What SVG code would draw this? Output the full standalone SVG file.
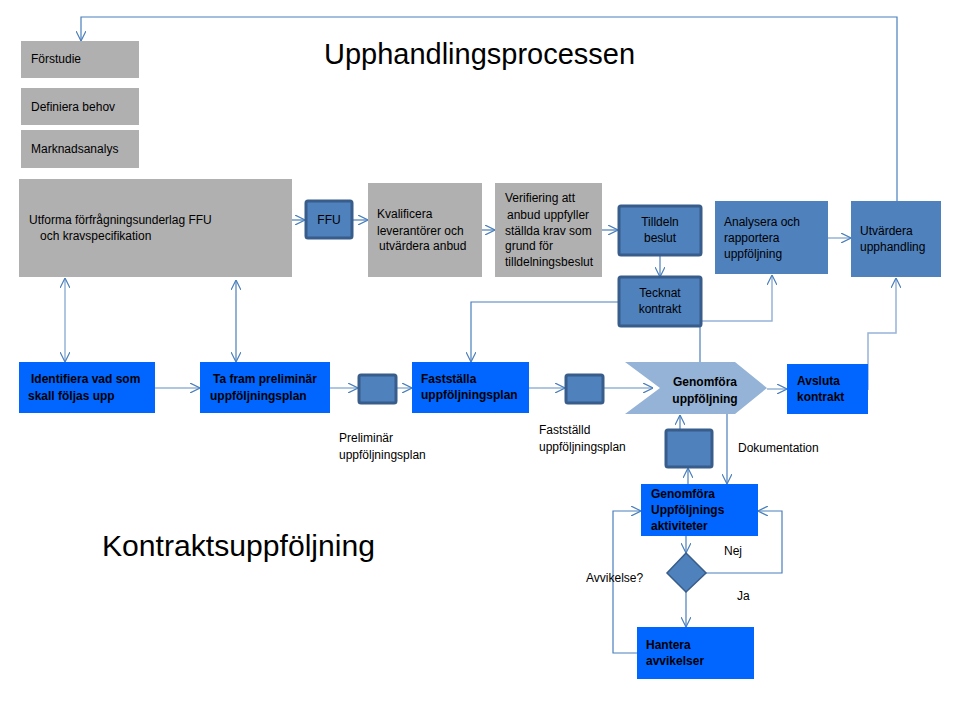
<svg xmlns="http://www.w3.org/2000/svg" width="960" height="720" viewBox="0 0 960 720">
<style>
text{font-family:"Liberation Sans",Arial,sans-serif;font-size:12px;fill:#000}
.b{font-weight:bold}
.big{font-size:29px}
.gray{fill:#B0B0B0}
.steel{fill:#4F81BD}
.steelb{fill:#4F81BD;stroke:#385D8A;stroke-width:3}
.bright{fill:#0066FF}
.c{fill:none;stroke:#4A7EBB;stroke-width:1.2}
.cl{fill:none;stroke:#95B3D7;stroke-width:1.5}
</style>
<defs>
<marker id="a" viewBox="0 0 10 10" refX="10" refY="5" markerWidth="10" markerHeight="10" markerUnits="userSpaceOnUse" orient="auto-start-reverse">
<path d="M0,0 L10,5 L0,10" fill="none" stroke="#4A7EBB" stroke-width="1.2"/>
</marker>
</defs>
<rect width="960" height="720" fill="#fff"/>
<text class="big" x="324" y="64" textLength="311" lengthAdjust="spacingAndGlyphs">Upphandlingsprocessen</text>
<text class="big" x="102" y="556" textLength="273" lengthAdjust="spacingAndGlyphs">Kontraktsuppföljning</text>

<g id="connectors">
<path class="c" d="M897,201 V17 H81 V41" marker-end="url(#a)"/>
<path class="c" d="M292,220 H305" marker-end="url(#a)"/>
<path class="c" d="M352,220 H368" marker-end="url(#a)"/>
<path class="c" d="M482,230 H495" marker-end="url(#a)"/>
<path class="c" d="M602,230 H618" marker-end="url(#a)"/>
<path class="c" d="M660,255 V277" marker-end="url(#a)"/>
<path class="c" d="M618,302 H471 V362" marker-end="url(#a)"/>
<path class="cl" d="M701,321 H772 V275" marker-end="url(#a)"/>
<path class="c" d="M700,326 V362"/>
<path class="cl" d="M828,238 H851" marker-end="url(#a)"/>
<path class="cl" d="M868,390 V333 H896 V278" marker-end="url(#a)"/>
<path class="cl" d="M65,278 V362" marker-start="url(#a)" marker-end="url(#a)"/>
<path class="c" d="M236,280 V362" marker-start="url(#a)" marker-end="url(#a)"/>
<path class="cl" d="M155,388 H200" marker-end="url(#a)"/>
<path class="cl" d="M330,388 H358" marker-end="url(#a)"/>
<path class="cl" d="M396,388 H412" marker-end="url(#a)"/>
<path class="cl" d="M529,388 H565" marker-end="url(#a)"/>
<path class="cl" d="M603,388 H653" marker-end="url(#a)"/>
<path class="cl" d="M767,389 H787" marker-end="url(#a)"/>
<path class="c" d="M680,429 V415" marker-end="url(#a)"/>
<path class="c" d="M688,484 V468" marker-end="url(#a)"/>
<path class="c" d="M727,411 V484" marker-end="url(#a)"/>
<path class="c" d="M686,536 V553" marker-end="url(#a)"/>
<path class="c" d="M706,573 H782 V511 H758" marker-end="url(#a)"/>
<path class="c" d="M686,592 V627" marker-end="url(#a)"/>
<path class="c" d="M637,653 H613 V511 H641" marker-end="url(#a)"/>
</g>

<g id="forstudie"><rect class="gray" x="21" y="41" width="118" height="37"/><text x="31" y="63">Förstudie</text></g>
<g id="definiera"><rect class="gray" x="21" y="88" width="118" height="37"/><text x="31" y="111">Definiera behov</text></g>
<g id="marknadsanalys"><rect class="gray" x="21" y="130" width="118" height="38"/><text x="31" y="153">Marknadsanalys</text></g>
<g id="utforma"><rect class="gray" x="19" y="179" width="273" height="98"/><text x="29" y="224">Utforma  förfrågningsunderlag FFU</text><text x="40" y="240">och kravspecifikation</text></g>
<g id="ffu"><rect class="steelb" x="306" y="201" width="46" height="37" rx="2"/><text x="329" y="224" text-anchor="middle">FFU</text></g>
<g id="kvalificera"><rect class="gray" x="368" y="183" width="114" height="94"/><text x="377" y="218">Kvalificera</text><text x="377" y="235">leverantörer och</text><text x="379" y="250">utvärdera anbud</text></g>
<g id="verifiering"><rect class="gray" x="495" y="183" width="107" height="94"/><text x="505" y="202">Verifiering att</text><text x="507" y="219">anbud uppfyller</text><text x="505" y="235">ställda krav som</text><text x="505" y="250">grund för</text><text x="505" y="266">tilldelningsbeslut</text></g>
<g id="tilldeln"><rect class="steelb" x="619" y="206" width="82" height="49" rx="2"/><text x="660" y="226" text-anchor="middle">Tilldeln</text><text x="660" y="242" text-anchor="middle">beslut</text></g>
<g id="tecknat"><rect class="steelb" x="619" y="277" width="82" height="49" rx="2"/><text x="660" y="297" text-anchor="middle">Tecknat</text><text x="660" y="313" text-anchor="middle">kontrakt</text></g>
<g id="analysera"><rect class="steel" x="715" y="201" width="113" height="73"/><text x="724" y="226">Analysera och</text><text x="724" y="242">rapportera</text><text x="724" y="258">uppföljning</text></g>
<g id="utvardera"><rect class="steel" x="851" y="201" width="90" height="76"/><text x="860" y="235">Utvärdera</text><text x="860" y="251">upphandling</text></g>

<g id="identifiera"><rect class="bright" x="19" y="362" width="136" height="51"/><text class="b" x="31" y="383">Identifiera vad som</text><text class="b" x="28" y="400">skall  följas  upp</text></g>
<g id="tafram"><rect class="bright" x="200" y="362" width="130" height="51"/><text class="b" x="213" y="383">Ta fram preliminär</text><text class="b" x="210" y="400">uppföljningsplan</text></g>
<g id="box1"><rect class="steelb" x="359" y="375" width="37" height="28" rx="2"/></g>
<g id="faststalla"><rect class="bright" x="412" y="362" width="117" height="51"/><text class="b" x="421" y="383">Fastställa</text><text class="b" x="421" y="399">uppföljningsplan</text></g>
<g id="box2"><rect class="steelb" x="566" y="375" width="37" height="28" rx="2"/></g>
<g id="genomfora"><path d="M625,362 H735 L767,388 L735,414 H625 L660,388 Z" fill="#95B3D7"/><text class="b" x="705" y="386" text-anchor="middle">Genomföra</text><text class="b" x="705" y="403" text-anchor="middle">uppföljning</text></g>
<g id="avsluta"><rect class="bright" x="787" y="364" width="81" height="50"/><text class="b" x="797" y="385">Avsluta</text><text class="b" x="797" y="401">kontrakt</text></g>
<g id="box3"><rect class="steelb" x="666" y="430" width="46" height="37" rx="2"/></g>
<g id="aktiviteter"><rect class="bright" x="641" y="484" width="117" height="52"/><text class="b" x="651" y="498">Genomföra</text><text class="b" x="651" y="514">Uppföljnings</text><text class="b" x="651" y="530">aktiviteter</text></g>
<g id="diamond"><path d="M686,553 L706,573 L686,592 L667,573 Z" fill="#4F81BD" stroke="#385D8A" stroke-width="1.5"/></g>
<g id="hantera"><rect class="bright" x="637" y="627" width="117" height="52"/><text class="b" x="646" y="649">Hantera</text><text class="b" x="646" y="665">avvikelser</text></g>

<g id="labels">
<text x="339" y="442">Preliminär</text><text x="339" y="459">uppföljningsplan</text>
<text x="539" y="434">Fastställd</text><text x="539" y="451">uppföljningsplan</text>
<text x="738" y="452">Dokumentation</text>
<text x="724" y="555">Nej</text>
<text x="737" y="600">Ja</text>
<text x="586" y="582">Avvikelse?</text>
</g>
</svg>
